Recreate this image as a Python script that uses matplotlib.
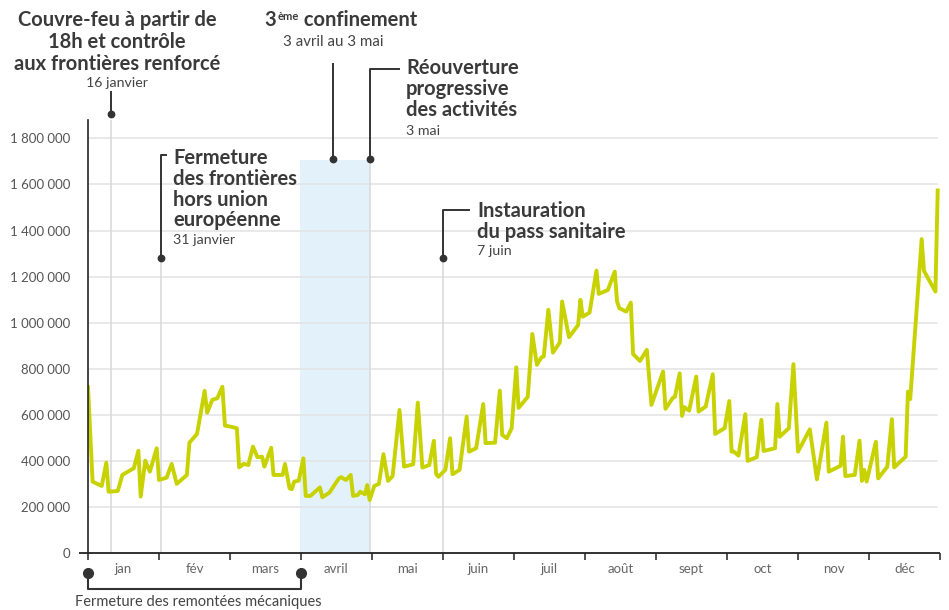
import calendar
import matplotlib
matplotlib.use("Agg")
import matplotlib.pyplot as plt
from matplotlib.lines import Line2D

plt.rcParams['font.family'] = ['Lato', 'DejaVu Sans']

# ---------------- data ----------------
dates = ["01-01", "01-03", "01-07", "01-09", "01-10", "01-14", "01-16", "01-21", "01-23", "01-24",
         "01-26", "01-28", "01-31", "02-01", "02-04", "02-06", "02-08", "02-12", "02-13", "02-16",
         "02-19", "02-20", "02-22", "02-24", "02-26", "02-27", "03-01", "03-04", "03-05", "03-07",
         "03-09", "03-11", "03-13", "03-15", "03-16", "03-19", "03-20", "03-24", "03-25", "03-27",
         "03-28", "03-29", "03-31", "04-02", "04-03", "04-05", "04-09", "04-10", "04-13", "04-17",
         "04-18", "04-20", "04-22", "04-23", "04-25", "04-26", "04-28", "04-29", "04-30", "05-02",
         "05-04", "05-06", "05-08", "05-10", "05-13", "05-15", "05-19", "05-21", "05-23", "05-26",
         "05-28", "05-29", "05-30", "06-02", "06-04", "06-05", "06-08", "06-11", "06-12", "06-15",
         "06-18", "06-19", "06-23", "06-25", "06-26", "06-28", "06-30", "07-02", "07-03", "07-07",
         "07-09", "07-11", "07-13", "07-14", "07-16", "07-18", "07-21", "07-22", "07-25", "07-29",
         "07-30", "07-31", "08-03", "08-06", "08-07", "08-11", "08-14", "08-15", "08-16", "08-19",
         "08-21", "08-22", "08-25", "08-28", "08-30", "09-04", "09-05", "09-08", "09-09", "09-11",
         "09-12", "09-13", "09-15", "09-18", "09-19", "09-22", "09-25", "09-26", "09-30", "10-02",
         "10-03", "10-04", "10-06", "10-09", "10-10", "10-14", "10-16", "10-17", "10-22", "10-23",
         "10-24", "10-28", "10-30", "11-01", "11-06", "11-09", "11-13", "11-14", "11-19", "11-20",
         "11-21", "11-25", "11-27", "11-28", "11-29", "11-30", "12-04", "12-05", "12-09", "12-11",
         "12-12", "12-17", "12-18", "12-19", "12-24", "12-25", "12-30", "12-31"]

values = [720000, 310000, 291000, 392000, 266000, 269000, 339000, 368000, 444000, 245000,
          401000, 353000, 455000, 317000, 327000, 387000, 300000, 339000, 479000, 517000,
          704000, 609000, 665000, 672000, 722000, 553000, 549000, 542000, 372000, 387000,
          382000, 462000, 416000, 418000, 375000, 457000, 339000, 339000, 387000, 281000,
          277000, 310000, 314000, 411000, 248000, 248000, 285000, 242000, 262000, 324000,
          329000, 317000, 339000, 248000, 252000, 266000, 255000, 295000, 230000, 291000,
          300000, 429000, 313000, 334000, 621000, 375000, 385000, 653000, 371000, 382000,
          487000, 343000, 331000, 361000, 498000, 342000, 361000, 592000, 440000, 455000,
          647000, 477000, 479000, 705000, 513000, 498000, 542000, 806000, 630000, 678000,
          951000, 817000, 850000, 853000, 1056000, 870000, 914000, 1092000, 937000, 990000,
          1099000, 1026000, 1044000, 1226000, 1125000, 1142000, 1222000, 1092000, 1063000, 1048000,
          1087000, 864000, 834000, 882000, 643000, 788000, 626000, 672000, 679000, 780000,
          595000, 633000, 618000, 766000, 614000, 636000, 776000, 517000, 542000, 660000,
          440000, 440000, 423000, 603000, 400000, 416000, 578000, 443000, 455000, 647000,
          505000, 542000, 820000, 440000, 537000, 320000, 566000, 353000, 379000, 505000,
          334000, 339000, 488000, 313000, 361000, 310000, 483000, 324000, 375000, 581000,
          372000, 418000, 701000, 668000, 1363000, 1225000, 1135000, 1574000]

month_labels = ["jan", "fév", "mars", "avril", "mai", "juin",
                "juil", "août", "sept", "oct", "nov", "déc"]
y_ticks = [0, 200000, 400000, 600000, 800000, 1000000, 1200000, 1400000, 1600000, 1800000]

# ---------------- layout helpers ----------------
W, H = 949, 610
fig = plt.figure(figsize=(W / 100, H / 100), dpi=100)
AX_L, AX_R, AX_T, AX_B = 88, 940, 120, 553
ax = fig.add_axes([AX_L / W, 1 - AX_B / H, (AX_R - AX_L) / W, (AX_B - AX_T) / H])

BOLD = 14.5
SUB = 10.2


def mpos(s):
    m, d = map(int, s.split("-"))
    n = calendar.monthrange(2021, m)[1]
    return (m - 1) + (d - 1) / n


def fx(px):
    return px / W


def fy(py):
    return 1 - py / H


def px2m(px):
    return (px - AX_L) / (AX_R - AX_L) * 12


def py2ax(py):
    return (AX_B - py) / (AX_B - AX_T)


DARK = "#333333"
TXT = "#3a3a3a"


def fline(xs, ys, lw=1.4, color=DARK):
    fig.add_artist(Line2D([fx(x) for x in xs], [fy(y) for y in ys],
                          transform=fig.transFigure, color=color, lw=lw,
                          solid_capstyle="butt"))


def fdot(x, y, ms=4.6):
    fig.add_artist(Line2D([fx(x)], [fy(y)], transform=fig.transFigure,
                          marker="o", ms=ms, color=DARK, mec=DARK, lw=0))


def btext(x, y, s, ha="left", size=BOLD):
    fig.text(fx(x), fy(y), s, ha=ha, va="baseline", fontsize=size,
             fontweight="bold", color=TXT)


def stext(x, y, s, ha="left", size=SUB):
    fig.text(fx(x), fy(y), s, ha=ha, va="baseline", fontsize=size, color="#444444")


# ---------------- axes ----------------
xs = [mpos(s) for s in dates]
ax.set_xlim(0, 12)
ax.set_ylim(0, 1880000)

# confinement shading
ax.axvspan(px2m(299.5), px2m(369.5), ymin=0, ymax=py2ax(160), color="#e3f2fa", lw=0, zorder=0)

# grid
for v in y_ticks[1:]:
    ax.axhline(v, xmin=0, xmax=(937 - AX_L) / (AX_R - AX_L), color="#e3e3e3", lw=1.1, zorder=1)

# gray event lines
for px, top in [(111, 114), (160.5, 258), (369.5, 159), (442.5, 258)]:
    ax.axvline(px2m(px), ymin=0, ymax=py2ax(top), color="#dadada", lw=1.2, zorder=1.5)

ax.plot(xs, values, color="#c8d200", lw=2.8, zorder=3, solid_joinstyle="round")

for s in ["top", "right", "bottom"]:
    ax.spines[s].set_visible(False)
ax.spines["left"].set_color("#222222")
ax.spines["left"].set_linewidth(1.2)
ax.spines["left"].set_zorder(4)

ax.set_yticks(y_ticks)
ax.set_yticklabels([f"{v:,}".replace(",", " ") for v in y_ticks])
ax.tick_params(axis="y", length=0, pad=13, labelsize=9.5, labelcolor="#555555")

ax.set_xticks(range(13))
ax.set_xticklabels([])
ax.set_xticks([i + 0.5 for i in range(12)], minor=True)
ax.set_xticklabels(month_labels, minor=True)
ax.tick_params(axis="x", which="major", length=5, width=1.1, color="#222222", direction="out")
ax.tick_params(axis="x", which="minor", length=0, pad=7, labelsize=9.5, labelcolor="#666666")

# bottom axis line (extends slightly left of y axis)
fline([79, 940], [553, 553], lw=1.3, color="#222222")

# ---------------- annotations ----------------
# Couvre-feu
for i, s in enumerate(["Couvre-feu à partir de", "18h et contrôle", "aux frontières renforcé"]):
    btext(117, 26 + 22 * i, s, ha="center")
stext(117, 87, "16 janvier", ha="center")
fline([111, 111], [91, 114])
fdot(111, 114)

# 3ème confinement
t3 = fig.text(fx(264), fy(26), "3", ha="left", va="baseline", fontsize=BOLD,
              fontweight="bold", color=TXT)
tsup = ax.annotate("ème", xy=(1, 1), xycoords=t3, xytext=(1, -1), textcoords="offset points",
                   ha="left", va="top", fontsize=8, fontweight="bold", color=TXT,
                   annotation_clip=False)
ax.annotate(" confinement", xy=(1, 0), xycoords=(tsup, t3), ha="left", va="bottom",
            fontsize=BOLD, fontweight="bold", color=TXT, annotation_clip=False)
stext(333, 46, "3 avril au 3 mai", ha="center", size=10.8)
fline([332.5, 332.5], [63, 159])
fdot(332.5, 159)

# Réouverture
for i, s in enumerate(["Réouverture", "progressive", "des activités"]):
    btext(406, 74 + 21 * i, s)
stext(406, 135, "3 mai")
fline([400, 369.5, 369.5], [69, 69, 159])
fdot(369.5, 159)

# Fermeture des frontières
for i, s in enumerate(["Fermeture", "des frontières", "hors union", "européenne"]):
    btext(173, 164 + 20.8 * i, s)
stext(173, 244, "31 janvier")
fline([167, 160.5, 160.5], [155, 155, 258])
fdot(160.5, 258)

# Pass sanitaire
for i, s in enumerate(["Instauration", "du pass sanitaire"]):
    btext(477, 217 + 21 * i, s)
stext(477, 255, "7 juin")
fline([470, 442.5, 442.5], [210, 210, 258])
fdot(442.5, 258)

# Fermeture des remontées mécaniques
fline([88, 88, 300.5, 300.5], [573, 588.5, 588.5, 573], lw=1.5)
fdot(88, 573, ms=7)
fdot(300.5, 573, ms=7)
stext(75, 606, "Fermeture des remontées mécaniques", size=10.5)

fig.savefig("out.png", dpi=100)
